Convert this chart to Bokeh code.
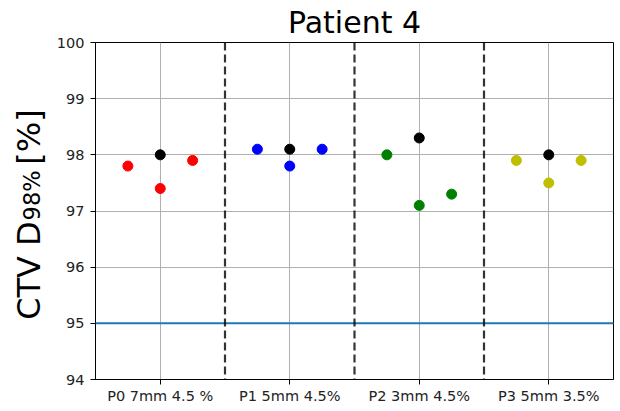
import math
from bokeh.plotting import figure
from bokeh.layouts import row
from bokeh.models import Span, FixedTicker, Range1d, ColumnDataSource
from bokeh.core.properties import value
from bokeh.embed import file_html
from bokeh.resources import INLINE

# ---- data ----
categories = ["P0 7mm 4.5 %", "P1 5mm 4.5%", "P2 3mm 4.5%", "P3 5mm 3.5%"]
nominal = [98.0, 98.1, 98.3, 98.0]          # black points
robust_left = [97.8, 98.1, 98.0, 97.9]
robust_mid = [97.4, 97.8, 97.1, 97.5]
robust_right = [97.9, 98.1, 97.3, 97.9]
series_colors = ["#ff0000", "#0000ff", "#008000", "#bfbf00"]
threshold = 95
y_ticks = [94, 95, 96, 97, 98, 99, 100]
title_text = "Patient 4"
ylabel_main, ylabel_sub, ylabel_tail = "CTV D", "98%", "[%]"

FONT = "DejaVu Sans"
LW = 52                      # width of the y-label strip
FL, FT, FW, FH = 95, 42, 518, 337
W, H = 620, 411

# ---------------- main plot ----------------
p = figure(frame_width=FW, frame_height=FH,
           min_border_left=FL - LW, min_border_right=W - FL - FW, min_border_top=FT,
           min_border_bottom=H - FT - FH,
           x_range=Range1d(-0.5, 3.5), y_range=Range1d(94, 100),
           title=title_text,
           output_backend="svg", toolbar_location=None)
p.background_fill_color = "white"
p.border_fill_color = "white"
p.outline_line_color = "black"
p.outline_line_width = 1

p.title.align = "center"
p.title.text_font = FONT
p.title.text_font_size = "30px"
p.title.text_font_style = "normal"
p.title.text_color = "black"
p.title.standoff = 5

for g in (p.xgrid, p.ygrid):
    g.grid_line_color = "#b0b0b0"
    g.grid_line_width = 1

p.xaxis.ticker = FixedTicker(ticks=list(range(len(categories))))
p.xaxis.major_label_overrides = {i: c for i, c in enumerate(categories)}
p.yaxis.ticker = FixedTicker(ticks=y_ticks)
for ax in (p.xaxis[0], p.yaxis[0]):
    ax.axis_line_color = "black"
    ax.major_tick_line_color = "black"
    ax.major_tick_out = 5
    ax.major_tick_in = 0
    ax.minor_tick_line_color = None
    ax.major_label_text_font = FONT
    ax.major_label_text_font_size = "14.5px"
    ax.major_label_text_color = "#222222"
p.xaxis.major_label_standoff = 3
p.yaxis.major_label_standoff = 6

p.add_layout(Span(location=threshold, dimension="width", line_color="#1f77b4", line_width=2))
for i in range(len(categories) - 1):
    p.add_layout(Span(location=i + 0.5, dimension="height", line_color="black",
                      line_alpha=0.8, line_width=2.2, line_dash="8 4"))

idx = list(range(len(categories)))
src = ColumnDataSource(dict(
    xl=[i - 0.25 for i in idx], xm=idx, xr=[i + 0.25 for i in idx],
    yl=robust_left, ym=robust_mid, yr=robust_right, yn=nominal, c=series_colors))
p.scatter("xl", "yl", source=src, size=10, color="c")
p.scatter("xm", "ym", source=src, size=10, color="c")
p.scatter("xr", "yr", source=src, size=10, color="c")
p.scatter("xm", "yn", source=src, size=10, color="black")

# ---------------- y-label strip (pixel coordinates) ----------------
q = figure(width=LW, height=H, x_range=Range1d(0, LW), y_range=Range1d(H, 0),
           x_axis_location=None, y_axis_location=None,
           min_border=0, output_backend="svg", toolbar_location=None)
q.outline_line_color = None
q.xgrid.visible = False
q.ygrid.visible = False
q.background_fill_color = "white"
q.border_fill_color = "white"

F = 32
SUB = 22.5
d_end = 218
base_x = 28
q.text(x=[base_x], y=[d_end], text=[ylabel_main], angle=math.pi / 2, text_align="right",
       text_baseline="alphabetic", text_font=value(FONT), text_font_size=value(f"{F}px"),
       text_color="black")
q.text(x=[base_x + 3], y=[d_end - 1], text=[ylabel_sub], angle=math.pi / 2, text_align="left",
       text_baseline="alphabetic", text_font=value(FONT), text_font_size=value(f"{SUB}px"),
       text_color="black")
q.text(x=[base_x], y=[d_end - 2.222 * SUB - 19], text=[ylabel_tail], angle=math.pi / 2,
       text_align="left", text_baseline="alphabetic", text_font=value(FONT),
       text_font_size=value(f"{F}px"), text_color="black")

layout = row(q, p, spacing=0)
open("out.html", "w").write(file_html(layout, INLINE))
